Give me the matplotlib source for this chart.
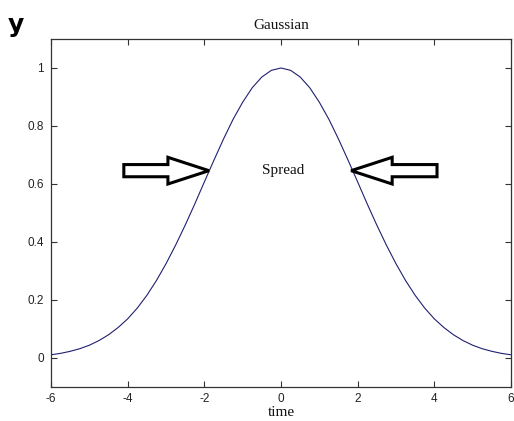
import matplotlib
matplotlib.use("Agg")
import matplotlib.pyplot as plt
from matplotlib.patches import FancyArrow

# Curve values (time step 0.25)
time = [-6.0, -5.75, -5.5, -5.25, -5.0, -4.75, -4.5, -4.25, -4.0, -3.75, -3.5, -3.25,
        -3.0, -2.75, -2.5, -2.25, -2.0, -1.75, -1.5, -1.25, -1.0, -0.75, -0.5, -0.25,
        0.0, 0.25, 0.5, 0.75, 1.0, 1.25, 1.5, 1.75, 2.0, 2.25, 2.5, 2.75, 3.0, 3.25,
        3.5, 3.75, 4.0, 4.25, 4.5, 4.75, 5.0, 5.25, 5.5, 5.75, 6.0]
values = [0.011, 0.016, 0.023, 0.032, 0.044, 0.060, 0.080, 0.105, 0.135, 0.172, 0.216, 0.267,
          0.325, 0.389, 0.458, 0.531, 0.607, 0.682, 0.755, 0.823, 0.882, 0.932, 0.969, 0.992,
          1.000, 0.992, 0.969, 0.932, 0.882, 0.823, 0.755, 0.682, 0.607, 0.531, 0.458, 0.389,
          0.325, 0.267, 0.216, 0.172, 0.135, 0.105, 0.080, 0.060, 0.044, 0.032, 0.023, 0.016,
          0.011]
x_ticks = [-6, -4, -2, 0, 2, 4, 6]
y_ticks = [0, 0.2, 0.4, 0.6, 0.8, 1]
y_tick_labels = ["0", "0.2", "0.4", "0.6", "0.8", "1"]

# Arrow annotations: (tail x, tip x, y)
left_arrow = (-4.1, -1.88, 0.646)
right_arrow = (4.07, 1.83, 0.646)

fig = plt.figure(figsize=(5.14, 4.21), dpi=100)
ax = fig.add_axes([51 / 514, 1 - 387 / 421, 460 / 514, 348 / 421])

ax.plot(time, values, color="#202070", lw=0.8)
ax.set_xlim(-6, 6)
ax.set_ylim(-0.1, 1.1)
ax.set_xticks(x_ticks)
ax.set_xticklabels([str(v) for v in x_ticks])
ax.set_yticks(y_ticks)
ax.set_yticklabels(y_tick_labels)

for s in ax.spines.values():
    s.set_color("#333333")
    s.set_linewidth(0.9)
ax.tick_params(direction="in", length=4, width=0.8, color="#333333",
               top=True, right=True, labelsize=8.5, labelcolor="#222222", pad=5)
ax.tick_params(axis="x", pad=4)
for lab in ax.get_xticklabels() + ax.get_yticklabels():
    lab.set_family("Liberation Sans")

ax.set_title("Gaussian", family="Liberation Serif", fontsize=11, pad=7, color="#111111")
ax.set_xlabel("time", family="Liberation Serif", fontsize=11, labelpad=1, color="#111111")
fig.text(8 / 514, 1 - 25 / 421, "y", family="DejaVu Sans", fontweight="bold",
         fontsize=18, va="center", ha="left")

ax.text(0.05, 0.646, "Spread", family="Liberation Serif", fontsize=11,
        ha="center", va="center", color="#111111")

for tail, tip, yv in (left_arrow, right_arrow):
    ax.add_patch(FancyArrow(tail, yv, tip - tail, 0, width=0.042, head_width=0.092,
                            head_length=1.07, length_includes_head=True,
                            fc="white", ec="black", lw=2.2, zorder=3))

fig.savefig("out.png", dpi=100)
